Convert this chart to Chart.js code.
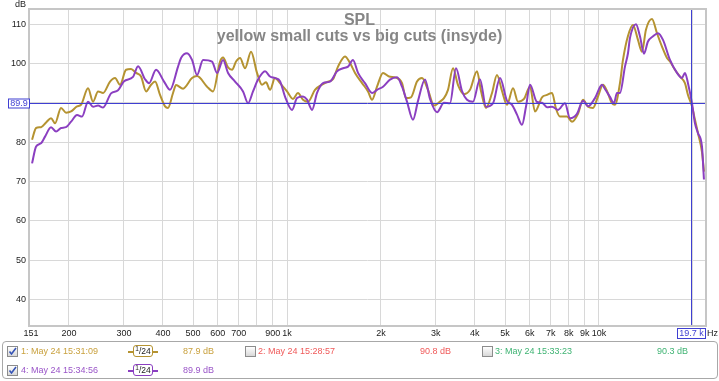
<!DOCTYPE html>
<html><head><meta charset="utf-8">
<script src="https://cdn.jsdelivr.net/npm/chart.js@4.4.1/dist/chart.umd.min.js"></script>
<style>
html,body{margin:0;padding:0;background:#fff;overflow:hidden}
#wrap{position:relative;width:719px;height:381px;font-family:"Liberation Sans",Arial,sans-serif}
canvas{position:absolute;left:0;top:0}
.t{position:absolute;white-space:nowrap;line-height:1}
.ttl{position:absolute;left:0;width:719px;text-align:center;font-weight:bold;font-size:16px;color:#868686;line-height:1;white-space:nowrap}
.lg{position:absolute;left:2px;top:341px;width:714px;height:36px;border:1px solid #a8a8a8;border-radius:4px;background:#fff}
.cb{position:absolute;width:9px;height:9px;border:1px solid #8c8c8c;background:linear-gradient(#ffffff,#d8d8d8)}
.cb svg{position:absolute;left:0;top:0}
.lt{position:absolute;font-size:9px;line-height:1;white-space:nowrap}
.sym{position:absolute;width:30px;height:12px}
.sym .ln{position:absolute;left:0;top:5px;width:30px;height:2px}
.sym .bx{position:absolute;left:5px;top:-1px;width:18px;height:10px;border:1.5px solid;border-radius:3px;background:#fff;font-size:8.5px;line-height:11px;text-align:center;color:#222}
.sym .bx sup{font-size:6.5px;vertical-align:3px;line-height:0}
</style></head><body>
<div id="wrap">
<canvas id="c" width="719" height="381"></canvas>
<div class="t" style="left:15px;top:0px;font-size:9px;color:#222">dB</div>
<div class="t" style="left:707px;top:329px;font-size:9px;color:#222">Hz</div>
<div class="ttl" style="top:12px">SPL</div>
<div class="ttl" style="top:28px">yellow small cuts vs big cuts (insyde)</div>
<div class="lg"></div>
<div class="cb" style="left:7px;top:346px"><svg width="9" height="9"><polyline points="1.5,4.5 3.5,7 8,1" fill="none" stroke="#3553b5" stroke-width="1.6"/></svg></div>
<div class="lt" style="left:21px;top:347px;color:#c9a13e">1: May 24 15:31:09</div>
<div class="sym" style="left:128px;top:346px"><div class="ln" style="background:#b59331"></div><div class="bx" style="border-color:#b59331"><sup>1</sup>/24</div></div>
<div class="lt" style="left:183px;top:347px;color:#c9a13e">87.9 dB</div>
<div class="cb" style="left:245px;top:346px"></div>
<div class="lt" style="left:258px;top:347px;color:#f05a5a">2: May 24 15:28:57</div>
<div class="lt" style="left:420px;top:347px;color:#f05a5a">90.8 dB</div>
<div class="cb" style="left:482px;top:346px"></div>
<div class="lt" style="left:495px;top:347px;color:#3fb373">3: May 24 15:33:23</div>
<div class="lt" style="left:657px;top:347px;color:#3fb373">90.3 dB</div>
<div class="cb" style="left:7px;top:365px"><svg width="9" height="9"><polyline points="1.5,4.5 3.5,7 8,1" fill="none" stroke="#3553b5" stroke-width="1.6"/></svg></div>
<div class="lt" style="left:21px;top:366px;color:#9a55c8">4: May 24 15:34:56</div>
<div class="sym" style="left:128px;top:365px"><div class="ln" style="background:#8b3fc1"></div><div class="bx" style="border-color:#8b3fc1"><sup>1</sup>/24</div></div>
<div class="lt" style="left:183px;top:366px;color:#9a55c8">89.9 dB</div>
</div>
<script>
// ---- data ----
const freqYellow = [152.3,156.9,162.7,168.9,175.2,180.5,188.6,195.7,203.1,212.3,218.6,230.2,238.9,247.9,257.2,270.8,281.0,291.5,304.8,316.2,328.1,340.5,353.3,366.6,377.6,391.7,406.4,415.5,431.1,440.8,464.2,496.0,514.6,554.2,579.2,610.0,623.6,647.1,666.4,686.4,707.0,733.6,766.8,801.4,831.6,856.5,882.1,915.3,949.7,1000,1045,1084,1125,1168,1229,1295,1353,1404,1457,1534,1592,1652,1740,1818,1873,1943,2031,2123,2236,2337,2406,2497,2610,2708,2831,2960,3093,3185,3281,3405,3533,3693,3860,4064,4186,4344,4541,4710,4888,5072,5302,5501,5750,6010,6236,6567,6813,7070,7281,7499,7897,8194,8566,8888,9220,9567,9926,10300,10607,11007,11253,11675,11937,12386,12853,13335,13734,14144,14787,15343,15920,16519,16890,17520,18180,18862,19286,19867,20310,20762,21384,21701];
const splYellow = [80.6,83.6,83.8,85.0,86.1,84.8,88.7,87.5,87.8,89.1,89.5,93.7,90.3,92.9,92.5,95.4,96.3,94.6,98.4,98.6,97.6,96.7,92.9,94.6,95.4,92.0,89.1,88.7,92.5,94.5,93.6,96.3,96.8,94.1,92.9,100.5,101.5,99.0,98.4,100.5,101.4,98.8,103.0,97.6,94.6,95.2,93.3,96.3,95.0,92.9,91.0,92.5,90.8,90.3,93.3,94.6,95.4,96.0,99.2,101.8,100.1,97.6,95.0,92.9,90.8,94.1,97.6,96.7,96.4,95.0,91.2,91.4,95.4,96.3,93.3,89.3,90.3,91.2,93.3,98.8,94.5,92.2,93.3,98.0,93.0,88.7,92.5,97.1,93.0,89.5,93.7,90.3,91.0,94.1,87.8,91.4,92.0,92.5,88.5,86.5,86.5,85.2,87.2,90.8,89.0,88.7,91.6,94.6,93.0,89.9,89.5,95.0,100.9,107.0,109.8,106.0,103.0,108.6,111.3,107.7,104.3,101.4,100.5,98.4,96.7,95.0,92.0,89.1,85.7,82.3,77.5,72.5];
const freqPurple = [152.3,156.9,162.7,167.6,175.2,181.8,188.6,195.7,203.1,212.3,220.3,230.2,238.9,247.9,257.2,272.8,287.3,300.3,320.9,333.0,350.7,361.1,380.4,403.4,421.7,447.4,457.4,478.1,496.0,514.6,538.1,574.9,596.6,623.6,647.1,681.3,722.8,749.9,778.0,807.4,850.2,882.1,915.3,949.7,985.3,1037.6,1076.6,1125,1159,1203,1248,1304,1373,1446,1512,1569,1627,1689,1778,1873,1943,2031,2138,2252,2337,2424,2534,2630,2769,2873,3026,3185,3330,3481,3638,3775,3946,4155,4344,4575,4816,5072,5263,5460,5666,5834,6010,6328,6567,6813,7070,7390,7780,8073,8502,8888,9220,9710,10224,10452,10845,11169,11418,11675,12114,12386,12571,13140,13533,13937,14355,14899,15457,16039,16890,17783,18450,18862,19286,19867,20310,20762,21384,21701];
const splPurple = [74.6,78.9,79.7,81.4,83.8,82.7,83.6,83.8,85.2,86.9,86.5,90.3,89.0,89.3,88.8,92.4,93.2,95.5,96.6,99.3,96.0,95.0,98.4,95.4,93.3,99.2,101.4,102.6,100.9,97.1,100.9,100.5,97.6,100.9,97.6,95.4,92.9,89.9,92.9,95.9,98.0,96.7,96.3,95.5,91.6,88.2,91.2,91.6,90.8,88.2,92.5,95.0,95.4,98.0,98.8,99.2,100.9,97.6,95.0,92.5,93.3,94.1,95.9,96.5,94.1,90.3,85.7,90.5,95.9,91.0,87.6,90.0,89.9,98.8,93.0,90.8,90.3,96.0,89.0,89.9,96.3,90.5,89.5,87.0,84.4,89.0,94.6,90.2,90.0,88.9,89.0,88.2,89.9,86.1,87.2,90.5,89.1,91.2,94.6,93.5,91.5,89.9,92.5,92.5,99.2,102.6,106.5,110.0,106.9,102.5,105.6,106.9,107.7,106.0,100.9,97.6,96.3,97.6,95.0,89.9,84.8,82.3,78.9,70.5];
const xTickValues = [151,200,300,400,500,600,700,800,900,1000,2000,3000,4000,5000,6000,7000,8000,9000,10000,20000];
const xTickLabels = ['151','200','300','400','500','600','700','','900','1k','2k','3k','4k','5k','6k','7k','8k','9k','10k',''];
const yTickValues = [40,50,60,70,80,90,100,110];
const cursorLevel = 89.9;
const cursorFreq = 19700;
const xMin = 150, xMax = 21870, yMin = 33.5, yMax = 113.6;

const pts = (fs, vs) => fs.map((f, i) => ({x: f, y: vs[i]}));
const FONT = '"Liberation Sans", Arial, sans-serif';
const CURSOR = '#3f3fd2';

const cursorPlugin = {
  id: 'cursor',
  afterDatasetsDraw(chart) {
    const {ctx, chartArea: a, scales: {x, y}} = chart;
    const cy = Math.round(y.getPixelForValue(cursorLevel)) + 0.5;
    const cx = Math.round(x.getPixelForValue(cursorFreq)) + 0.5;
    ctx.save();
    ctx.strokeStyle = CURSOR; ctx.lineWidth = 1;
    ctx.beginPath();
    ctx.moveTo(a.left, cy); ctx.lineTo(a.right, cy);
    ctx.moveTo(cx, a.top); ctx.lineTo(cx, a.bottom);
    ctx.stroke();
    ctx.strokeStyle = '#c6c6c6'; ctx.lineWidth = 2;
    ctx.strokeRect(a.left - 1, a.top - 1, a.right - a.left + 2, a.bottom - a.top + 2);
    ctx.font = '9px ' + FONT;
    ctx.textBaseline = 'middle';
    ctx.fillStyle = '#fff'; ctx.fillRect(8.5, cy - 4.5, 21, 9);
    ctx.strokeStyle = CURSOR; ctx.lineWidth = 1; ctx.strokeRect(8.5, cy - 4.5, 21, 9);
    ctx.fillStyle = CURSOR; ctx.textAlign = 'center';
    ctx.fillText(String(cursorLevel), 19, cy + 0.5);
    const by = a.bottom + 3.5;
    ctx.fillStyle = '#fff'; ctx.fillRect(cx - 14, by, 28, 10);
    ctx.strokeRect(cx - 14, by, 28, 10);
    ctx.fillStyle = CURSOR;
    ctx.fillText((cursorFreq / 1000).toFixed(1) + ' k', cx, by + 5.5);
    ctx.restore();
  }
};

new Chart(document.getElementById('c'), {
  type: 'line',
  data: {
    datasets: [
      {label: '4: May 24 15:34:56', data: pts(freqPurple, splPurple), borderColor: '#8b3fc1', order: 0},
      {label: '1: May 24 15:31:09', data: pts(freqYellow, splYellow), borderColor: '#b59331', order: 1}
    ]
  },
  options: {
    responsive: false, animation: false, devicePixelRatio: 1, events: [],
    layout: {padding: {left: 0, right: 14, top: 10, bottom: 41}},
    elements: {
      line: {borderWidth: 2, cubicInterpolationMode: 'monotone', fill: false, borderJoinStyle: 'round'},
      point: {radius: 0}
    },
    plugins: {legend: {display: false}, tooltip: {enabled: false}, title: {display: false}},
    scales: {
      x: {
        type: 'logarithmic', min: xMin, max: xMax,
        afterBuildTicks: s => { s.ticks = xTickValues.map(v => ({value: v})); },
        afterFit: s => { s.height = 15; },
        ticks: {autoSkip: false, maxRotation: 0, minRotation: 0, padding: 3, color: '#222',
          font: {size: 9, family: FONT}, callback: (v, i) => xTickLabels[i]},
        grid: {drawTicks: false, color: c => (c.tick && c.tick.value === 151) ? 'rgba(0,0,0,0)' : '#d8d8d8'},
        border: {display: false}
      },
      y: {
        type: 'linear', min: yMin, max: yMax,
        afterBuildTicks: s => { s.ticks = yTickValues.map(v => ({value: v})); },
        afterFit: s => { s.width = 30; },
        ticks: {padding: 4, color: '#222', font: {size: 9, family: FONT}},
        grid: {drawTicks: false, color: '#d8d8d8'},
        border: {display: false}
      }
    }
  },
  plugins: [cursorPlugin]
});
</script>
</body></html>
